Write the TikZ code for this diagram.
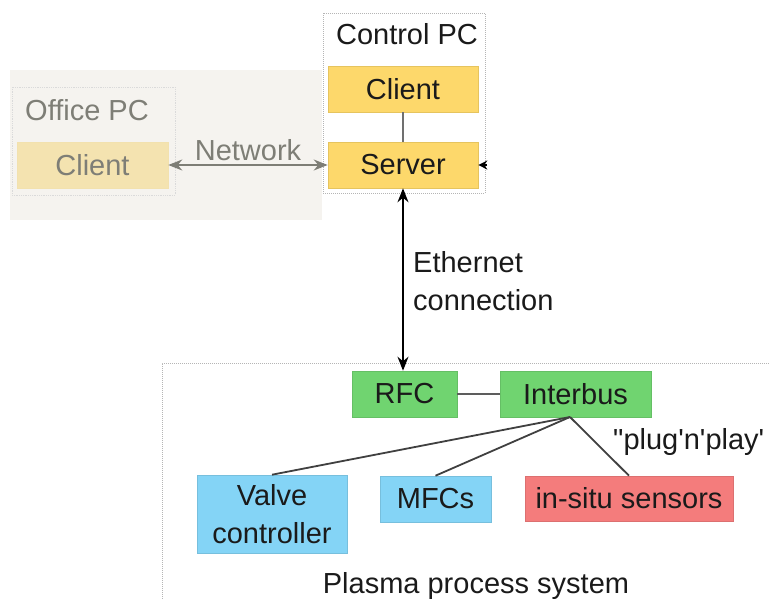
\documentclass[tikz,border=0pt]{standalone}
\usepackage{fontspec}
\setmainfont{Liberation Sans}
\usetikzlibrary{arrows.meta}
\definecolor{txt}{HTML}{1A1A1A}
\definecolor{gtxt}{HTML}{7E7E76}
\definecolor{officebg}{HTML}{F5F3EF}
\definecolor{ofill}{HTML}{F4E3B0}
\definecolor{yfill}{HTML}{FDD86B}
\definecolor{ydraw}{HTML}{E6C45E}
\definecolor{gfill}{HTML}{70D470}
\definecolor{bfill}{HTML}{84D4F6}
\definecolor{rfill}{HTML}{F47C7C}
\definecolor{framecol}{HTML}{B5B5B5}
\definecolor{linecol}{HTML}{404040}
\begin{document}
\begin{tikzpicture}[x=1pt,y=-1pt,
  every node/.style={font=\fontsize{29}{38}\selectfont, text=txt, inner sep=0pt},
  boxbase/.style={rectangle, draw=#1, line width=0.6pt},
  ybox/.style={boxbase=ydraw, fill=yfill},
  obox/.style={boxbase=ofill!90!black!10!ofill, fill=ofill, text=gtxt},
  gbox/.style={boxbase=gfill!90!black, fill=gfill},
  bbox/.style={boxbase=bfill!90!black, fill=bfill},
  rbox/.style={boxbase=rfill!90!black, fill=rfill},
  frame/.style={draw=framecol, densely dotted, line width=1pt},
  conn/.style={draw=linecol, line width=1.8pt},
  dbl/.style={line width=1.8pt, {Stealth[length=14pt,width=11pt]}-{Stealth[length=14pt,width=11pt]}}
]
\useasboundingbox (0,0) rectangle (769,598);
% backgrounds and frames
\fill[officebg] (10,70) rectangle (322,220);
\draw[draw=framecol!50, densely dotted, line width=0.8pt] (12,87) rectangle (175,195);
\draw[frame] (323,13) rectangle (485,193);
\draw[frame] (775,363) -- (162,363) -- (162,605);
% labels
\node[text=gtxt] (officelbl) at (87,110) {Office PC};
\node (ctrllbl) at (407,34) {Control PC};
% boxes
\node[obox, minimum width=151pt, minimum height=46pt] (oclient) at (92.5,165) {Client};
\node[ybox, minimum width=150pt, minimum height=46pt] (cclient) at (403,89) {Client};
\node[ybox, minimum width=150pt, minimum height=46pt] (server) at (403,165) {Server};
\node[gbox, minimum width=105pt, minimum height=46pt] (rfc) at (404.5,394) {RFC};
\node[gbox, minimum width=151pt, minimum height=46pt] (ib) at (575.5,394) {Interbus};
\node[bbox, minimum width=150pt, minimum height=78pt, align=center] (valve) at (272,514) {Valve\\controller};
\node[bbox, minimum width=111pt, minimum height=46pt] (mfc) at (435.5,499) {MFCs};
\node[rbox, minimum width=208pt, minimum height=45pt] (ins) at (629,498.5) {in-situ sensors};
% connectors
\draw[conn, draw=linecol!75] (cclient) -- (server);
\draw[dbl, draw=gtxt, fill=gtxt] (oclient.east) -- (server.west) node[midway, above=3pt, text=gtxt] (netlbl) {Network};
\coordinate (rin) at (487,165);
\draw[line width=1.8pt, -{Stealth[length=9pt,width=9pt]}] (rin) -- (server.east);
\draw[dbl] (server.south) -- (server.south |- rfc.north);
\node[anchor=west, align=left] (ethlbl) at (413,281) {Ethernet\\connection};
\draw[conn, draw=linecol!85] (rfc) -- (ib);
\coordinate (hub) at (570,417);
\draw[conn] (hub) -- (valve.north);
\draw[conn] (hub) -- (mfc.north);
\draw[conn] (hub) -- (ins.north);
\node[anchor=west] (pnp) at (613,442) {\textquotedbl plug\textquotesingle n\textquotesingle play\textquotesingle};
\node[anchor=base] (plasma) at (476,593) {Plasma process system};
\end{tikzpicture}
\end{document}
